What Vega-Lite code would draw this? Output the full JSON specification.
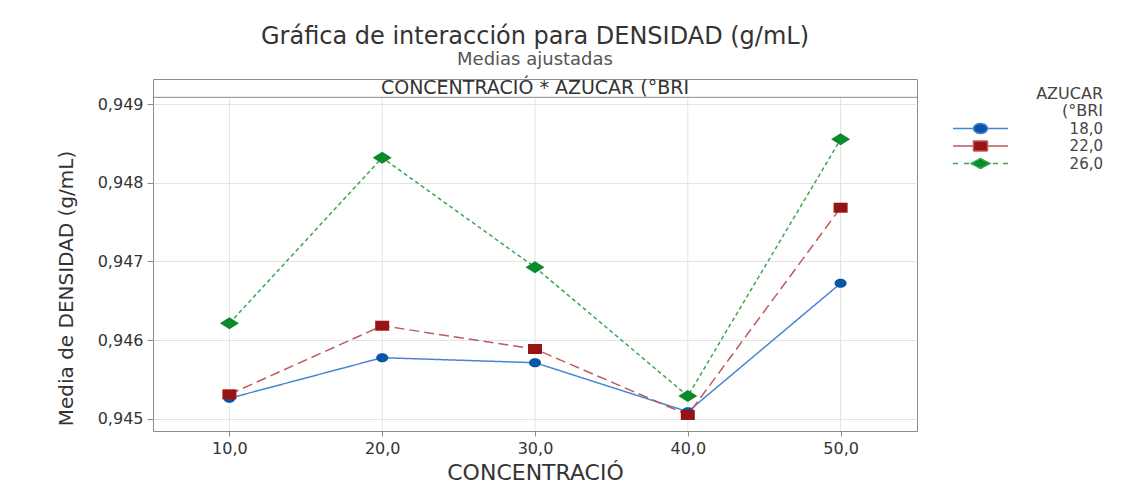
{
  "$schema": "https://vega.github.io/schema/vega-lite/v6.json",
  "width": 764,
  "height": 352,
  "autosize": {"type": "none"},
  "padding": {"left": 153, "top": 79, "right": 222, "bottom": 61},
  "background": "white",
  "config": {"view": {"stroke": "#8c8c8c", "strokeWidth": 1}, "font": "DejaVu Sans"},
  "title": {
    "text": "Gráfica de interacción para DENSIDAD (g/mL)",
    "subtitle": "Medias ajustadas",
    "fontSize": 24,
    "fontWeight": "normal",
    "color": "#333333",
    "subtitleFontSize": 18,
    "subtitleColor": "#555555",
    "subtitlePadding": 2,
    "offset": 10,
    "anchor": "middle",
    "font": "DejaVu Sans",
    "subtitleFont": "DejaVu Sans"
  },
  "data": {
    "values": [
      {"concentracion": 10, "azucar": "18,0", "media": 0.945261},
      {"concentracion": 20, "azucar": "18,0", "media": 0.945777},
      {"concentracion": 30, "azucar": "18,0", "media": 0.945713},
      {"concentracion": 40, "azucar": "18,0", "media": 0.94509},
      {"concentracion": 50, "azucar": "18,0", "media": 0.946722},
      {"concentracion": 10, "azucar": "22,0", "media": 0.945311},
      {"concentracion": 20, "azucar": "22,0", "media": 0.946183},
      {"concentracion": 30, "azucar": "22,0", "media": 0.945887},
      {"concentracion": 40, "azucar": "22,0", "media": 0.945048},
      {"concentracion": 50, "azucar": "22,0", "media": 0.947683},
      {"concentracion": 10, "azucar": "26,0", "media": 0.946214},
      {"concentracion": 20, "azucar": "26,0", "media": 0.948319},
      {"concentracion": 30, "azucar": "26,0", "media": 0.946926},
      {"concentracion": 40, "azucar": "26,0", "media": 0.94529},
      {"concentracion": 50, "azucar": "26,0", "media": 0.948552}
    ]
  },
  "layer": [
    {
      "transform": [{"aggregate": [{"op": "count", "as": "n"}], "groupby": ["concentracion"]}],
      "mark": {"type": "rule", "color": "#e3e3e3", "strokeWidth": 1},
      "encoding": {
        "x": {"field": "concentracion", "type": "quantitative"},
        "y": {"datum": 0.944845},
        "y2": {"datum": 0.949086}
      }
    },
    {
      "data": {"values": [{}]},
      "mark": {"type": "rule", "color": "#8c8c8c", "strokeWidth": 1},
      "encoding": {"y": {"datum": 0.949086}}
    },
    {
      "data": {"values": [{"label": "CONCENTRACIÓ * AZUCAR (°BRI"}]},
      "mark": {"type": "text", "fontSize": 19, "color": "#333333", "font": "DejaVu Sans", "baseline": "middle", "align": "center"},
      "encoding": {
        "text": {"field": "label"},
        "x": {"datum": 30},
        "y": {"datum": 0.949204}
      }
    },
    {
      "mark": {"type": "line", "strokeWidth": 1.5},
      "encoding": {
        "x": {
          "field": "concentracion",
          "type": "quantitative",
          "scale": {"domain": [5, 55], "nice": false, "zero": false},
          "axis": {
            "values": [10, 20, 30, 40, 50],
            "labelExpr": "replace(format(datum.value, '.1f'), '.', ',')",
            "title": "CONCENTRACIÓ",
            "titleFont": "DejaVu Sans",
            "titleFontSize": 22,
            "titleFontWeight": "normal",
            "titleColor": "#333333",
            "titlePadding": 6,
            "labelFont": "DejaVu Sans",
            "labelFontSize": 16,
            "labelColor": "#333333",
            "labelPadding": 4,
            "tickSize": 5,
            "tickColor": "#8c8c8c",
            "domain": false,
            "grid": false
          }
        },
        "y": {
          "field": "media",
          "type": "quantitative",
          "scale": {"domain": [0.944845, 0.949319], "nice": false, "zero": false},
          "axis": {
            "values": [0.945, 0.946, 0.947, 0.948, 0.949],
            "labelExpr": "replace(format(datum.value, '.3f'), '.', ',')",
            "title": "Media de DENSIDAD (g/mL)",
            "titleFont": "DejaVu Sans",
            "titleFontSize": 20,
            "titleFontWeight": "normal",
            "titleColor": "#333333",
            "titleY": 209,
            "titlePadding": 21,
            "labelFont": "DejaVu Sans",
            "labelFontSize": 16,
            "labelColor": "#333333",
            "labelPadding": 4,
            "tickSize": 6,
            "tickColor": "#8c8c8c",
            "domain": false,
            "grid": true,
            "gridColor": "#e3e3e3"
          }
        },
        "stroke": {
          "field": "azucar",
          "type": "nominal",
          "scale": {"range": ["#4a86cf", "#bf5a5a", "#3aa64f"]},
          "legend": {
            "orient": "none",
            "legendX": 820,
            "legendY": 7,
            "title": ["AZUCAR", "(°BRI"],
            "titleFont": "DejaVu Sans",
            "titleFontSize": 16,
            "titleFontWeight": "normal",
            "titleColor": "#444444",
            "titleAlign": "right",
            "titleAnchor": "end",
            "titleLineHeight": 17,
            "titlePadding": 2,
            "labelFont": "DejaVu Sans",
            "labelFontSize": 15,
            "labelColor": "#444444",
            "labelAlign": "right",
            "labelOffset": 115,
            "symbolSize": 100,
            "rowPadding": 0.5,
            "encode": {
              "symbols": {
                "update": {
                  "shape": {"signal": "datum.value === '18,0' ? 'M-5.5,0H-1.4M1.4,0H5.5M-1.4,0C-1.4,-0.55 -0.77,-1 0,-1C0.77,-1 1.4,-0.55 1.4,0C1.4,0.55 0.77,1 0,1C-0.77,1 -1.4,0.55 -1.4,0Z' : datum.value === '22,0' ? 'M-5.5,0H-1.4M1.4,0H5.5M-1.4,-1H1.4V1H-1.4Z' : 'M-5.5,0H-4.5M-3.3,0H-2.3M2.5,0H3.5M4.5,0H5.5M0,-1L1.9,0L0,1L-1.9,0Z'"},
                  "fill": {"signal": "datum.value === '18,0' ? '#0b55a8' : datum.value === '22,0' ? '#981414' : '#0b8a2d'"},
                  "strokeDash": {"value": [1, 0]},
                  "strokeWidth": {"value": 1.5},
                  "opacity": {"value": 1},
                  "fillOpacity": {"value": 1},
                  "strokeOpacity": {"value": 1}
                }
              }
            }
          }
        },
        "strokeDash": {
          "field": "azucar",
          "type": "nominal",
          "scale": {"domain": ["18,0", "22,0", "26,0"], "range": [[1, 0], [10, 5], [4, 3]]},
          "legend": null
        }
      }
    },
    {
      "mark": {"type": "point", "filled": true, "opacity": 1, "size": 100},
      "encoding": {
        "x": {"field": "concentracion", "type": "quantitative"},
        "y": {"field": "media", "type": "quantitative"},
        "shape": {
          "field": "azucar",
          "type": "nominal",
          "scale": {
            "domain": ["18,0", "22,0", "26,0"],
            "range": [
              "M-1.2,0C-1.2,-0.5 -0.66,-0.9 0,-0.9C0.66,-0.9 1.2,-0.5 1.2,0C1.2,0.5 0.66,0.9 0,0.9C-0.66,0.9 -1.2,0.5 -1.2,0Z",
              "M-1.4,-1H1.4V1H-1.4Z",
              "M0,-1.2L1.9,0L0,1.2L-1.9,0Z"
            ]
          },
          "legend": null
        },
        "fill": {
          "field": "azucar",
          "type": "nominal",
          "scale": {"domain": ["18,0", "22,0", "26,0"], "range": ["#0b55a8", "#981414", "#0b8a2d"]},
          "legend": null
        }
      }
    }
  ]
}
